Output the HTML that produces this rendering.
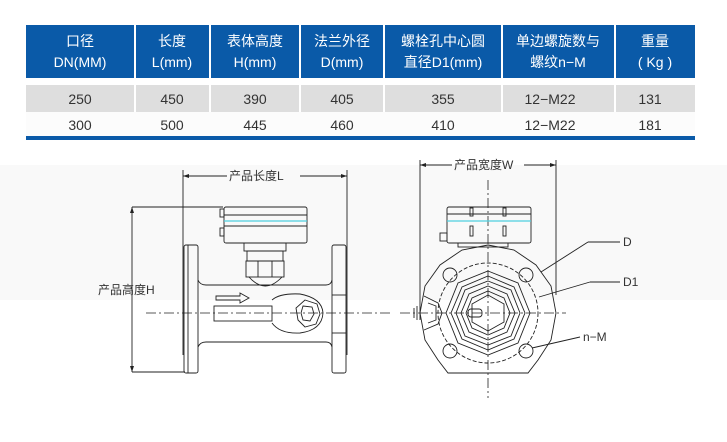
<!DOCTYPE html>
<html><head><meta charset="utf-8"><style>
body{margin:0;width:727px;height:442px;background:#fff;overflow:hidden;font-family:"Liberation Sans","Noto Sans CJK SC",sans-serif;}
svg{position:absolute;left:0;top:0}
</style></head><body>
<svg width="727" height="442" viewBox="0 0 727 442" xmlns="http://www.w3.org/2000/svg" font-family="Liberation Sans, Noto Sans CJK SC, sans-serif">
<rect x="0" y="165" width="727" height="135" fill="#f9f9f9"/>
<!-- table header -->
<g fill="#0a5aa8">
<rect x="26" y="25" width="108" height="53"/><rect x="136" y="25" width="73" height="53"/>
<rect x="211" y="25" width="88" height="53"/><rect x="301" y="25" width="82" height="53"/>
<rect x="385" y="25" width="116" height="53"/><rect x="503" y="25" width="111" height="53"/>
<rect x="616" y="25" width="79" height="53"/>
</g>
<rect x="26" y="85" width="669" height="27" fill="#dedede"/>
<g stroke="#fff" stroke-width="2"><line x1="135" y1="85" x2="135" y2="112"/><line x1="210" y1="85" x2="210" y2="112"/><line x1="300" y1="85" x2="300" y2="112"/><line x1="384" y1="85" x2="384" y2="112"/><line x1="502" y1="85" x2="502" y2="112"/><line x1="615" y1="85" x2="615" y2="112"/></g>
<rect x="26" y="112" width="669" height="24" fill="#fcfcfc"/>
<rect x="26" y="136" width="669" height="4" fill="#0a5aa8"/>
<g fill="#fff" font-size="14" text-anchor="middle">
<text x="80" y="46">口径</text><text x="80" y="67">DN(MM)</text>
<text x="172" y="46">长度</text><text x="172" y="67">L(mm)</text>
<text x="255" y="46">表体高度</text><text x="255" y="67">H(mm)</text>
<text x="342" y="46">法兰外径</text><text x="342" y="67">D(mm)</text>
<text x="443" y="46">螺栓孔中心圆</text><text x="443" y="67">直径D1(mm)</text>
<text x="558" y="46">单边螺旋数与</text><text x="558" y="67">螺纹n−M</text>
<text x="655" y="46">重量</text><text x="655" y="67">( Kg )</text>
</g>
<g fill="#333" font-size="14" text-anchor="middle">
<text x="80" y="104">250</text><text x="172" y="104">450</text><text x="255" y="104">390</text><text x="342" y="104">405</text><text x="443" y="104">355</text><text x="550" y="104">12−M22</text><text x="650" y="104">131</text>
<text x="80" y="130">300</text><text x="172" y="130">500</text><text x="255" y="130">445</text><text x="342" y="130">460</text><text x="443" y="130">410</text><text x="550" y="130">12−M22</text><text x="650" y="130">181</text>
</g>
<!-- left drawing -->
<g stroke="#222" fill="none" stroke-width="0.9">
<line x1="183" y1="176" x2="227" y2="176"/><line x1="300" y1="176" x2="347" y2="176"/>
<line x1="183" y1="170" x2="183" y2="355"/><line x1="347" y1="170" x2="347" y2="355"/>
<line x1="132" y1="207" x2="132" y2="372"/><line x1="132" y1="207" x2="223" y2="207"/><line x1="132" y1="372" x2="185" y2="372"/>
<rect x="224" y="207" width="83" height="36" rx="2"/>
<line x1="224" y1="215" x2="307" y2="215"/><line x1="224" y1="226" x2="307" y2="226"/>
<rect x="220" y="209" width="4" height="8"/><rect x="220" y="228" width="4" height="8"/>
<rect x="244" y="243" width="42" height="8"/><rect x="247" y="251" width="36" height="10"/><rect x="246" y="261" width="38" height="16"/>
<line x1="258" y1="261" x2="258" y2="277"/><line x1="272" y1="261" x2="272" y2="277"/>
<path d="M249 277 Q265 295 282 277"/>
<rect x="184" y="245" width="14" height="128" rx="2"/><line x1="188" y1="245" x2="188" y2="373"/>
<rect x="332" y="245" width="14" height="128" rx="2"/><line x1="332" y1="295" x2="346" y2="295"/><line x1="332" y1="333" x2="346" y2="333"/>
<path d="M198 280 Q200 285 206 285 L326 285 Q331 285 332 280"/>
<path d="M198 347 Q200 342 206 342 L326 342 Q331 342 332 347"/>
<rect x="214" y="306" width="58" height="15"/>
<path d="M272 300 Q280 293 300 294 Q322 298 323 313 Q322 330 300 333 Q280 334 272 323"/>
<polygon points="305,300 317,304 320,314 316,324 305,327 298,320 296,308" fill="#fff"/>
<polygon points="303,306 312,307 314,314 310,321 303,320 301,313"/>
<path d="M216 296 L240 296 L240 293 L249 298 L240 303 L240 300 L216 300 Z"/>
</g>
<line x1="146" y1="313" x2="392" y2="313" stroke="#222" stroke-width="0.8" stroke-dasharray="10,3,2,3"/>
<line x1="224" y1="221" x2="307" y2="221" stroke="#4fd0e0" stroke-width="1.2"/>
<g fill="#222"><path d="M183 176 l6 -2 v4z"/><path d="M347 176 l-6 -2 v4z"/><path d="M132 207 l-2 6 h4z"/><path d="M132 372 l-2 -6 h4z"/></g>
<g font-size="12" fill="#333"><text x="229" y="180">产品长度L</text><text x="98" y="294">产品高度H</text></g>
<!-- right drawing -->
<g stroke="#222" fill="none" stroke-width="0.9">
<line x1="420" y1="165" x2="452" y2="165"/><line x1="524" y1="165" x2="556" y2="165"/>
<line x1="420" y1="160" x2="420" y2="320"/><line x1="556" y1="160" x2="556" y2="295"/>
<rect x="447" y="207" width="84" height="36" rx="2"/>
<line x1="447" y1="214" x2="531" y2="214"/>
<rect x="470" y="208" width="3" height="8"/><rect x="503" y="208" width="3" height="8"/>
<rect x="470" y="226" width="3" height="10"/><rect x="503" y="226" width="3" height="10"/>
<rect x="440" y="233" width="7" height="8"/>
<rect x="458" y="243" width="50" height="4"/>
<polygon points="488,245 514,250 536,265 551,286 556,313 551,340 538,360 528,373 448,373 438,360 425,340 420,313 425,286 440,265 462,250"/>
<circle cx="488" cy="313" r="50" stroke-dasharray="4,2"/>
<circle cx="450" cy="275" r="7"/><circle cx="526" cy="275" r="7"/><circle cx="450" cy="351" r="7"/><circle cx="526" cy="351" r="7"/>
<polygon points="488,271 518,283 530,313 518,343 488,355 458,343 446,313 458,283"/>
<polygon points="488,276 514,287 525,313 514,339 488,350 462,339 451,313 462,287"/>
<polygon points="488,281 511,290 520,313 511,336 488,345 465,336 456,313 465,290"/>
<polygon points="488,286 507,294 515,313 507,332 488,340 469,332 461,313 469,294"/>
<polygon points="488,291 504,298 510,313 504,328 488,335 472,328 466,313 472,298"/>
<polygon points="488,295 504,304 504,322 488,331 472,322 472,304"/>
<rect x="468" y="309" width="14" height="8" rx="3"/>
<path d="M424 296 L438 303 L442 313 L438 324 L424 330"/>
<path d="M428 303 L436 306 L436 320 L428 323"/>
<line x1="414" y1="308" x2="414" y2="318"/><line x1="417" y1="306" x2="417" y2="320"/>
<line x1="541" y1="272" x2="588" y2="242"/><line x1="588" y1="242" x2="620" y2="242"/>
<line x1="539" y1="297" x2="590" y2="282"/><line x1="590" y1="282" x2="620" y2="282"/>
<line x1="532" y1="348" x2="580" y2="337"/>
</g>
<line x1="400" y1="313" x2="566" y2="313" stroke="#222" stroke-width="0.8" stroke-dasharray="10,3,2,3"/>
<line x1="488" y1="180" x2="488" y2="398" stroke="#222" stroke-width="0.8" stroke-dasharray="10,3,2,3"/>
<line x1="447" y1="221" x2="531" y2="221" stroke="#4fd0e0" stroke-width="1.2"/>
<g fill="#222"><path d="M420 165 l6 -2 v4z"/><path d="M556 165 l-6 -2 v4z"/></g>
<g font-size="12" fill="#333"><text x="454" y="169">产品宽度W</text><text x="623" y="246">D</text><text x="623" y="286">D1</text><text x="583" y="341">n−M</text></g>
</svg>
</body></html>
